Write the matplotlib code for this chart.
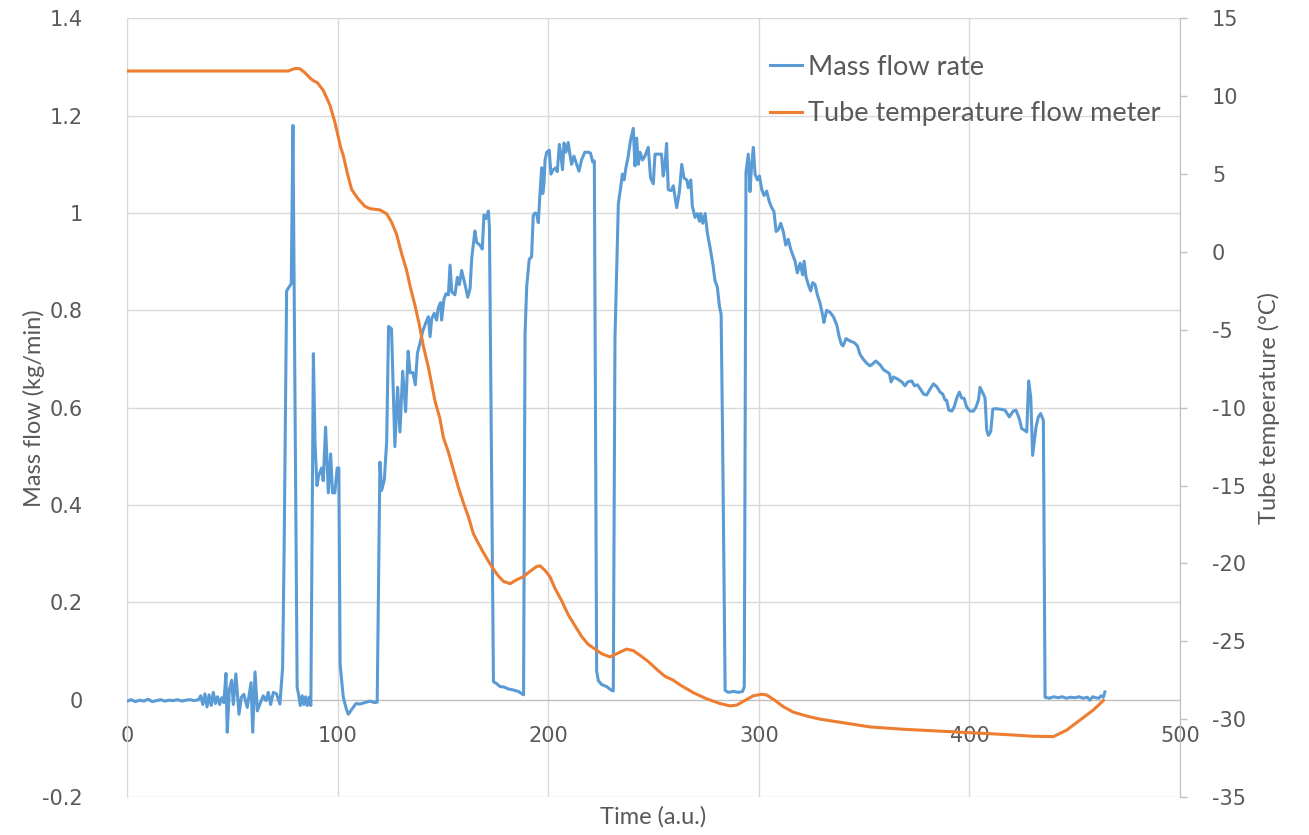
import matplotlib
matplotlib.use('Agg')
import matplotlib.pyplot as plt
import numpy as np

plt.rcParams['axes.unicode_minus'] = False

# ── data ──────────────────────────────────────────────────────────────────────
flow_t = [0, 2, 4, 6, 8, 10, 12, 14, 16, 18, 20, 22, 24, 26, 28, 30, 32, 34,
          35, 36, 37, 38, 39, 40, 41, 42, 43, 44, 45, 46,
          47.0, 47.6, 48.6, 49.7, 50.5, 51.7, 53.2, 54.3, 55.5, 57.1, 58.9, 59.7,
          60.8, 61.9, 63.1, 64.7, 66.0, 67.1, 68.2, 69.5, 71.0, 72.6, 73.9,
          74.6, 75.8, 78.0, 78.8, 80.8,
          81.5, 82.3, 83.2, 84.0, 84.8, 85.6, 86.5, 87.3, 88.5, 89.3, 90.2, 91.0,
          92.4, 93.2, 94.3, 95.6, 96.7, 97.6, 98.7, 99.8, 100.6, 101.2, 102.7,
          104.2, 105.1, 106.7, 108.7, 110.6, 113.0, 115.3, 117.7, 118.8,
          120.1, 120.9, 122.2, 123.3, 124.2, 125.6, 127.2, 128.5, 129.6, 130.9,
          132.3, 133.5, 134.4, 135.8, 136.9, 137.9, 139.1, 140.4, 142.0, 143.1,
          143.9, 144.7, 145.9, 147.0, 147.8, 148.9, 149.4, 150.5, 151.5, 152.6,
          153.4, 154.2, 155.7, 156.9, 157.8, 158.9, 160.5, 161.8, 162.9, 163.7,
          165.2, 166.0, 167.6, 168.7, 169.5, 170.5, 171.6, 172.1,
          174.0, 175.5, 177.1, 179.0, 181.1, 183.4, 185.8, 188.3,
          189.0, 189.8, 191.0, 192.1, 192.9, 193.7, 194.5, 195.3, 196.1, 196.9,
          197.4, 198.0, 198.5, 199.3, 200.5, 201.3, 202.4, 203.7, 204.3, 205.3,
          206.1, 206.8, 207.5, 208.4, 209.5, 210.3, 211.1, 212.2, 213.5, 214.6,
          215.9, 217.4, 219.0, 220.1, 221.1, 221.9,
          223.0, 223.8, 225.4, 227.7, 230.1, 230.9,
          231.7, 233.3, 234.4, 235.2, 236.0, 236.9, 238.0, 239.1, 240.4, 241.2,
          242.0, 242.8, 243.6, 244.8, 245.9, 247.5, 248.6, 249.9, 250.7, 252.3,
          253.8, 254.6, 255.4, 256.2, 257.0, 258.4, 259.4, 261.0, 262.3, 263.4,
          264.5, 265.8, 266.5, 267.7, 268.4, 269.7, 270.8, 271.8, 272.4, 273.4,
          274.5, 275.6, 276.8, 278.1, 279.2, 280.3, 281.3, 282.1, 282.8,
          284.0, 285.5, 287.9, 290.3, 292.3, 293.1,
          293.9, 295.0, 295.8, 296.6, 297.4, 298.2, 299.3, 300.3, 301.4, 302.5,
          303.7, 305.0, 306.1, 307.2, 308.2, 309.3, 310.4, 311.6, 312.8, 314.0,
          315.1, 316.1, 317.2, 318.3, 319.6, 320.8, 321.5, 322.4, 323.5, 324.6,
          325.6, 326.7, 327.8, 329.0, 330.3, 330.9, 332.2, 333.8, 335.4, 337.0,
          338.2, 339.2, 340.0, 341.4, 343.3, 345.2, 346.8, 348.1, 349.7, 351.3,
          352.8, 354.1, 355.5, 357.6, 359.2, 360.7, 362.0, 362.8, 363.9, 365.8,
          367.9, 369.4, 370.7, 372.6, 373.9, 375.3, 376.6, 378.2, 379.7, 381.0,
          382.9, 384.5, 386.1, 387.3, 388.4, 389.2, 390.2, 391.6, 392.7, 394.0,
          395.2, 396.3, 397.5, 398.7, 400.3, 401.9, 403.1, 404.3, 405.0, 406.6,
          407.4, 408.2, 409.0, 410.1, 411.1, 412.2, 414.5, 416.9, 418.9, 420.8,
          422.1, 423.7, 424.8, 426.4, 427.2, 428.1, 429.1, 430.0, 431.6, 432.7,
          433.8, 435.1,
          435.9, 438, 440, 442, 444, 446, 448, 450, 452, 454, 456, 457.2, 458.5,
          460, 461.5, 462.5, 463.6, 464.3]

flow = [-0.003, 0.0, -0.004, -0.001, -0.003, 0.001, -0.004, -0.002, 0.0, -0.003,
        -0.001, -0.002, 0.0, -0.003, -0.001, 0.0, -0.002, 0.0,
        0.008, -0.01, 0.012, -0.015, 0.01, -0.012, 0.015, -0.008, 0.006, -0.01,
        0.004, -0.006,
        0.054, -0.067, 0.02, 0.04, -0.01, 0.053, -0.03, 0.005, 0.011, -0.016,
        0.035, -0.067, 0.057, -0.023, -0.009, 0.008, -0.002, 0.015, -0.01, 0.015,
        0.012, -0.009, 0.066,
        0.3, 0.84, 0.855, 1.18, 0.025,
        0.01, -0.012, 0.008, -0.01, 0.006, -0.012, 0.005, -0.012, 0.711, 0.526,
        0.44, 0.46, 0.476, 0.45, 0.56, 0.425, 0.505, 0.425, 0.425, 0.476, 0.476,
        0.073, 0.005, -0.02, -0.03, -0.02, -0.008, -0.009, -0.006, -0.003,
        -0.006, -0.005,
        0.488, 0.43, 0.452, 0.53, 0.767, 0.762, 0.52, 0.642, 0.55, 0.675,
        0.592, 0.716, 0.672, 0.672, 0.647, 0.712, 0.732, 0.757, 0.776, 0.787,
        0.746, 0.783, 0.794, 0.78, 0.805, 0.816, 0.78, 0.823, 0.834, 0.832,
        0.893, 0.838, 0.832, 0.868, 0.853, 0.882, 0.853, 0.827, 0.845, 0.908,
        0.963, 0.94, 0.934, 0.926, 0.996, 0.989, 1.004, 0.97,
        0.037, 0.033, 0.027, 0.026, 0.022, 0.02, 0.017, 0.01,
        0.75, 0.85, 0.905, 0.91, 0.995, 1.0, 0.999, 0.98, 1.04, 1.093,
        1.04, 1.06, 1.109, 1.125, 1.129, 1.08, 1.089, 1.093, 1.085, 1.141,
        1.117, 1.089, 1.144, 1.125, 1.145, 1.121, 1.1, 1.117, 1.1, 1.086,
        1.11, 1.125, 1.125, 1.123, 1.105, 1.107,
        0.059, 0.039, 0.031, 0.027, 0.019, 0.018,
        0.743, 1.019, 1.052, 1.08, 1.068, 1.093, 1.117, 1.15, 1.174, 1.097,
        1.154, 1.1, 1.125, 1.109, 1.117, 1.135, 1.072, 1.06, 1.121, 1.121,
        1.121, 1.076, 1.097, 1.143, 1.048, 1.046, 1.056, 1.011, 1.044, 1.1,
        1.072, 1.068, 1.052, 1.068, 1.015, 0.991, 0.999, 0.983, 0.999, 0.979,
        0.999, 0.958, 0.93, 0.897, 0.861, 0.848, 0.808, 0.792, 0.539,
        0.019, 0.015, 0.017, 0.015, 0.017, 0.027,
        1.084, 1.121, 1.044, 1.1, 1.135, 1.08, 1.068, 1.076, 1.048, 1.036,
        1.045, 1.023, 1.011, 1.003, 0.962, 0.966, 0.979, 0.962, 0.934, 0.946,
        0.926, 0.914, 0.901, 0.877, 0.897, 0.873, 0.901, 0.869, 0.853, 0.84,
        0.857, 0.853, 0.832, 0.816, 0.79, 0.775, 0.8, 0.796, 0.787, 0.77,
        0.745, 0.73, 0.727, 0.742, 0.737, 0.734, 0.727, 0.709, 0.699, 0.691,
        0.686, 0.69, 0.696, 0.688, 0.678, 0.674, 0.67, 0.653, 0.663, 0.659,
        0.653, 0.645, 0.653, 0.655, 0.645, 0.647, 0.639, 0.628, 0.626, 0.636,
        0.649, 0.643, 0.632, 0.628, 0.616, 0.615, 0.595, 0.593, 0.601, 0.62,
        0.632, 0.62, 0.619, 0.601, 0.593, 0.593, 0.601, 0.616, 0.642, 0.628,
        0.62, 0.554, 0.543, 0.551, 0.597, 0.598, 0.597, 0.595, 0.581, 0.593,
        0.595, 0.577, 0.557, 0.553, 0.55, 0.655, 0.622, 0.502, 0.56, 0.581,
        0.588, 0.574,
        0.005, 0.003, 0.006, 0.004, 0.006, 0.003, 0.005, 0.004, 0.006, 0.003,
        0.005, -0.001, 0.006, 0.004, 0.003, 0.008, 0.005, 0.016]

temp_t = [0, 76.6, 78.5, 80, 82, 84.5, 86.9, 88.5, 90.4, 93.2, 96.4, 98.7,
          100.3, 101.5, 102.7, 104.6, 106.7, 109.8, 113.0, 115.4, 120.1, 123.3,
          125.6, 128.0, 130.4, 132.8, 134.6, 136.6, 138.7, 140.8, 143.1, 144.7,
          146.3, 148.6, 150.2, 152.6, 155.0, 157.3, 159.7, 162.1, 164.5, 166.8,
          169.2, 171.6, 173.9, 176.3, 178.7, 181.9, 185.0, 188.2, 191.4, 194.5,
          196.1, 198.5, 200.8, 203.2, 206.4, 209.5, 212.7, 215.9, 219.0, 222.2,
          225.4, 229.3, 233.3, 237.2, 240.4, 243.6, 247.5, 251.5, 255.4, 259.4,
          262.6, 268.9, 275.3, 281.6, 286.3, 289.5, 293.4, 297.4, 301.4, 303.7,
          307.7, 311.6, 316.4, 322.7, 329.0, 338.6, 352.8, 368.7, 384.5, 400.3,
          416.1, 430.4, 439.9, 446.2, 452.5, 458.9, 463.6]

temp = [11.62, 11.62, 11.72, 11.78, 11.77, 11.51, 11.17, 11.0, 10.87, 10.38,
        9.42, 8.34, 7.4, 6.7, 6.2, 5.07, 4.0, 3.4, 2.93, 2.78, 2.7, 2.45,
        1.92, 1.14, -0.1, -1.2, -2.3, -3.35, -4.6, -6.1, -7.4, -8.5,
        -9.6, -10.7, -11.9, -12.85, -14.0, -15.1, -16.1, -17.0, -18.1, -18.7,
        -19.3, -19.85, -20.35, -20.8, -21.15, -21.3, -21.05, -20.85, -20.5, -20.2,
        -20.15, -20.45, -20.85, -21.6, -22.4, -23.3, -24.0, -24.7, -25.2, -25.5,
        -25.8, -26.0, -25.75, -25.5, -25.6, -25.9, -26.3, -26.8, -27.25, -27.5,
        -27.8, -28.3, -28.7, -29.0, -29.15, -29.1, -28.8, -28.5, -28.4, -28.45,
        -28.8, -29.2, -29.55, -29.8, -30.0, -30.2, -30.5, -30.65, -30.76, -30.87,
        -30.98, -31.1, -31.12, -30.7, -30.06, -29.4, -28.8]

x_ticks = [0, 100, 200, 300, 400, 500]
flow_ticks = [-0.2, 0, 0.2, 0.4, 0.6, 0.8, 1.0, 1.2, 1.4]
flow_labels = ['-0.2', '0', '0.2', '0.4', '0.6', '0.8', '1', '1.2', '1.4']
temp_ticks = [-35, -30, -25, -20, -15, -10, -5, 0, 5, 10, 15]

# ── style ─────────────────────────────────────────────────────────────────────
BLUE = '#5B9BD5'
ORANGE = '#ED7D31'
TXT = '#595959'
GRID = '#D9D9D9'
AXIS = '#BFBFBF'
TICK_FONT = 'DejaVu Sans'
TITLE_FONT = 'Lato'

fig = plt.figure(figsize=(13.09, 8.35), dpi=100)
ax = fig.add_axes([0.097, 0.0455, 0.8045, 0.9325])
ax.set_xlim(0, 500)
ax.set_ylim(-0.2, 1.4)
ax.set_xticks(x_ticks)
ax.set_yticks(flow_ticks)
ax.set_yticklabels(flow_labels)
ax.grid(True, color=GRID, lw=1)
ax.set_axisbelow(True)

ax.spines['top'].set_visible(False)
ax.spines['right'].set_visible(False)
ax.spines['left'].set_color(GRID)
ax.spines['bottom'].set_position(('data', 0))
ax.spines['bottom'].set_color(AXIS)
ax.tick_params(axis='x', length=0, pad=19, labelsize=15, labelcolor=TXT)
ax.tick_params(axis='y', length=0, pad=32, labelsize=15, labelcolor=TXT)
for lb in ax.get_xticklabels() + ax.get_yticklabels():
    lb.set_fontfamily(TICK_FONT)

ln1, = ax.plot(flow_t, flow, color=BLUE, lw=2.2, label='Mass flow rate',
               solid_joinstyle='round', zorder=3)

ax2 = ax.twinx()
ax2.set_ylim(-35, 15)
ax2.set_yticks(temp_ticks)
for sp in ['top', 'left', 'bottom']:
    ax2.spines[sp].set_visible(False)
ax2.spines['right'].set_color(AXIS)
ax2.tick_params(axis='y', direction='out', length=5, width=1, color=AXIS,
                pad=18, labelsize=15, labelcolor=TXT)
for lb in ax2.get_yticklabels():
    lb.set_fontfamily(TICK_FONT)
ln2, = ax2.plot(temp_t, temp, color=ORANGE, lw=2.2,
                label='Tube temperature flow meter', solid_joinstyle='round')

ax.set_xlabel('Time (a.u.)', fontsize=17, color=TXT, family=TITLE_FONT)
ax.xaxis.set_label_coords(0.5, -0.012)
ax.set_ylabel('Mass flow (kg/min)', fontsize=17, color=TXT, family=TITLE_FONT)
ax.yaxis.set_label_coords(-0.078, 0.5)
ax2.set_ylabel('Tube temperature (°C)', fontsize=17, color=TXT, family=TITLE_FONT)
ax2.yaxis.set_label_coords(1.074, 0.5)

leg = ax2.legend(handles=[ln1, ln2], loc='upper left',
                 bbox_to_anchor=(0.6106, 0.953), frameon=False,
                 prop={'family': TITLE_FONT, 'size': 19.5},
                 borderpad=0, borderaxespad=0,
                 handlelength=1.2, handletextpad=0.2, labelspacing=0.78)
for t in leg.get_texts():
    t.set_color(TXT)

fig.savefig('out.png', dpi=100, facecolor='white')
